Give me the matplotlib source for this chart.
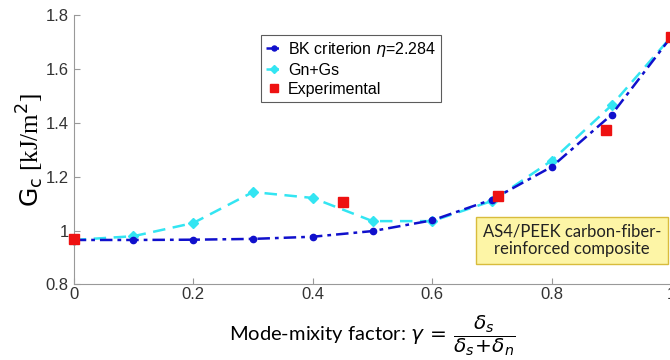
import matplotlib
matplotlib.use("Agg")
import matplotlib.pyplot as plt

gamma = [0.0, 0.1, 0.2, 0.3, 0.4, 0.5, 0.6, 0.7, 0.8, 0.9, 1.0]
bk = [0.965, 0.965, 0.966, 0.969, 0.977, 0.998, 1.038, 1.115, 1.237, 1.43, 1.72]
gngs = [0.965, 0.979, 1.028, 1.143, 1.121, 1.035, 1.035, 1.11, 1.26, 1.465, 1.72]
exp_x = [0.0, 0.45, 0.71, 0.89, 1.0]
exp_y = [0.967, 1.105, 1.13, 1.375, 1.72]

xticks = [0, 0.2, 0.4, 0.6, 0.8, 1]
xticklabels = ["0", "0.2", "0.4", "0.6", "0.8", "1"]
yticks = [0.8, 1.0, 1.2, 1.4, 1.6, 1.8]
yticklabels = ["0.8", "1", "1.2", "1.4", "1.6", "1.8"]

plt.rcParams['font.family'] = ['Liberation Sans', 'DejaVu Sans']

fig = plt.figure(figsize=(6.7, 3.6), dpi=100)
ax = fig.add_axes([0.110, 0.210, 0.892, 0.748])

ax.plot(gamma, gngs, linestyle=(0, (5, 3)), color='#33E5F2', lw=1.8,
        marker='D', ms=5, mfc='#33E5F2', mec='#33E5F2', label='Gn+Gs', zorder=2, clip_on=False)
ax.plot(gamma, bk, linestyle=(0, (5, 2, 1.5, 2)), color='#1010CC', lw=1.8,
        marker='o', ms=4.5, mfc='#1010CC', mec='#1010CC', label=r'BK criterion $\eta$=2.284', zorder=3, clip_on=False)
ax.plot(exp_x, exp_y, linestyle='none', marker='s', ms=6.5, color='#EE1111',
        label='Experimental', zorder=4, clip_on=False)

ax.set_xlim(0, 1)
ax.set_ylim(0.8, 1.8)
ax.set_xticks(xticks)
ax.set_xticklabels(xticklabels)
ax.set_yticks(yticks)
ax.set_yticklabels(yticklabels)
ax.tick_params(direction='in', colors='#999999', labelcolor='#333333', labelsize=12, length=4)
ax.tick_params(axis='x', pad=2)
for s in ['top', 'right']:
    ax.spines[s].set_visible(False)
for s in ['left', 'bottom']:
    ax.spines[s].set_color('#999999')

ax.set_ylabel(r'$\mathrm{G_c}$ [kJ/m$^2$]', fontsize=18, family='Liberation Serif', labelpad=0)
ax.set_xlabel(r'Mode-mixity factor: $\gamma\,=\,\dfrac{\delta_s}{\delta_s\!+\!\delta_n}$', fontsize=14.5,
              family='Lato', labelpad=8)

h, l = ax.get_legend_handles_labels()
order = [1, 0, 2]
leg = ax.legend([h[i] for i in order], [l[i] for i in order], loc='upper left',
                bbox_to_anchor=(0.313, 0.926), borderaxespad=0, fontsize=11.5, frameon=True,
                fancybox=False, edgecolor='#333333', handlelength=1.1, handletextpad=0.3,
                borderpad=0.3, labelspacing=0.25, markerscale=0.8)
leg.get_frame().set_linewidth(0.8)

ax.text(0.834, 0.163, 'AS4/PEEK carbon-fiber-\nreinforced composite', transform=ax.transAxes,
        ha='center', va='center', fontsize=12, family='Lato', color='#222222',
        linespacing=1.15,
        bbox=dict(boxstyle='square,pad=0.4', fc='#FDF5A6', ec='#D8BC3C', lw=1))

fig.savefig('out.png', dpi=100)
